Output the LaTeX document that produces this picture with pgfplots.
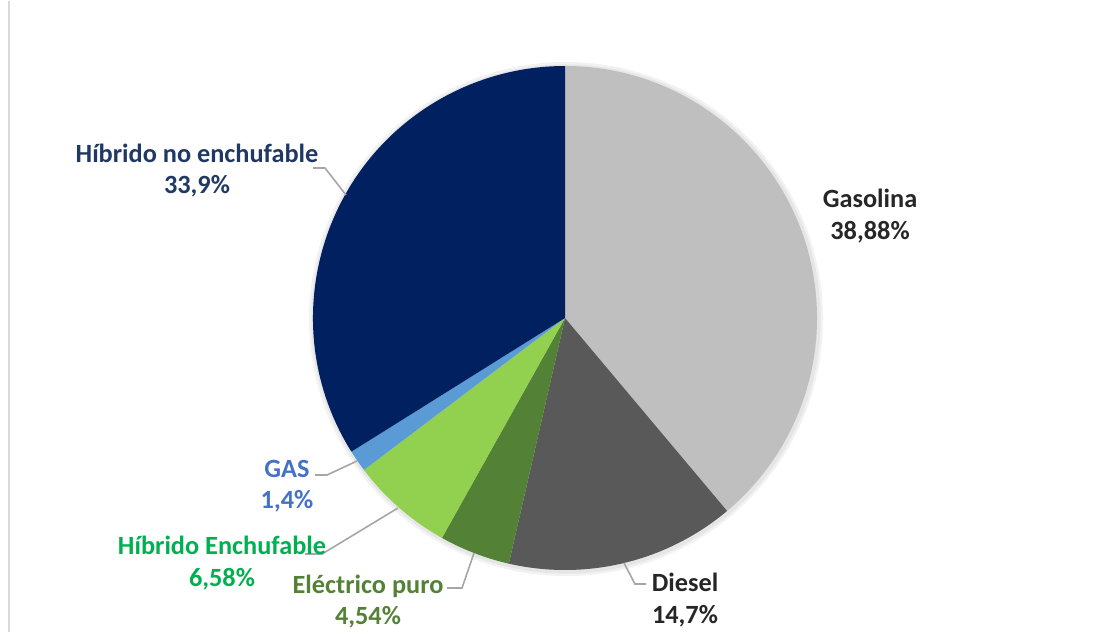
\documentclass[border=0pt]{standalone}
\usepackage{fontspec}
\setmainfont{Carlito}
\usepackage{pgfplots}
\usepackage{pgfplotstable}
\pgfplotsset{compat=1.18}
\definecolor{cGasolina}{HTML}{BFBFBF}
\definecolor{cDiesel}{HTML}{595959}
\definecolor{cElec}{HTML}{538135}
\definecolor{cHE}{HTML}{92D050}
\definecolor{cGAS}{HTML}{5B9BD5}
\definecolor{cHNE}{HTML}{002060}
\definecolor{tHNE}{HTML}{1F3864}
\definecolor{tGAS}{HTML}{4472C4}
\definecolor{tHE}{HTML}{00B050}
\definecolor{tElec}{HTML}{538135}
\definecolor{tDark}{HTML}{262626}
\definecolor{leader}{HTML}{A6A6A6}
\definecolor{frame}{HTML}{D9D9D9}

\pgfplotstableread[col sep=comma]{
name,value
Gasolina,38.88
Diesel,14.7
Electrico,4.54
HibridoEnchufable,6.58
GAS,1.4
HibridoNoEnchufable,33.9
}\piedata

\begin{document}
\begin{tikzpicture}
\pgfplotstablegetelem{0}{value}\of\piedata \let\vA\pgfplotsretval
\pgfplotstablegetelem{1}{value}\of\piedata \let\vB\pgfplotsretval
\pgfplotstablegetelem{2}{value}\of\piedata \let\vC\pgfplotsretval
\pgfplotstablegetelem{3}{value}\of\piedata \let\vD\pgfplotsretval
\pgfplotstablegetelem{4}{value}\of\piedata \let\vE\pgfplotsretval
\pgfplotstablegetelem{5}{value}\of\piedata \let\vF\pgfplotsretval
\pgfmathsetmacro\tA{90}
\pgfmathsetmacro\tB{\tA-3.6*\vA}
\pgfmathsetmacro\tC{\tB-3.6*\vB}
\pgfmathsetmacro\tD{\tC-3.6*\vC}
\pgfmathsetmacro\tE{\tD-3.6*\vD}
\pgfmathsetmacro\tF{\tE-3.6*\vE}
\pgfmathsetmacro\tG{\tF-3.6*\vF}
\begin{axis}[x=0.5pt, y=0.5pt, xmin=0, xmax=1112, ymin=0, ymax=631,
  hide axis, clip=false, scale only axis]
\path (axis cs:0,0) rectangle (axis cs:1112,631);
% left frame line
\draw[frame, line width=1pt] (axis cs:9,0) -- (axis cs:9,631);
% soft shadow
\fill[black, opacity=0.05] (axis cs:566,313) circle[radius=128.5pt];
\fill[black, opacity=0.05] (axis cs:566,313) circle[radius=127.3pt];
% slices
\fill[cGasolina] (axis cs:565,314) -- ++(\tA:126pt) arc[start angle=\tA, end angle=\tB, radius=126pt] -- cycle;
\fill[cDiesel] (axis cs:565,314) -- ++(\tB:126pt) arc[start angle=\tB, end angle=\tC, radius=126pt] -- cycle;
\fill[cElec] (axis cs:565,314) -- ++(\tC:126pt) arc[start angle=\tC, end angle=\tD, radius=126pt] -- cycle;
\fill[cHE] (axis cs:565,314) -- ++(\tD:126pt) arc[start angle=\tD, end angle=\tE, radius=126pt] -- cycle;
\fill[cGAS] (axis cs:565,314) -- ++(\tE:126pt) arc[start angle=\tE, end angle=\tF, radius=126pt] -- cycle;
\fill[cHNE] (axis cs:565,314) -- ++(\tF:126pt) arc[start angle=\tF, end angle=\tG, radius=126pt] -- cycle;
% leader lines
\draw[leader, line width=0.8pt] (axis cs:313,464) -- (axis cs:325,464) -- (axis cs:346,437);
\draw[leader, line width=0.8pt] (axis cs:315,157) -- (axis cs:327,157) -- (axis cs:357,171);
\draw[leader, line width=0.8pt] (axis cs:305,78) -- (axis cs:322,78) -- (axis cs:398,124);
\draw[leader, line width=0.8pt] (axis cs:447,44) -- (axis cs:462,44) -- (axis cs:474,79);
\draw[leader, line width=0.8pt] (axis cs:624,69) -- (axis cs:635,48) -- (axis cs:646,48);
% labels
\tikzset{lbl/.style={anchor=base, inner sep=0pt, font=\fontsize{13.15}{16}\selectfont\bfseries}}
\node[lbl, text=tHNE] at (axis cs:197,469) {Híbrido no enchufable};
\node[lbl, text=tHNE] at (axis cs:197,438) {33,9\%};
\node[lbl, text=tDark] at (axis cs:870,424) {Gasolina};
\node[lbl, text=tDark] at (axis cs:870,392) {38,88\%};
\node[lbl, text=tGAS] at (axis cs:287,155) {GAS};
\node[lbl, text=tGAS] at (axis cs:287,124) {1,4\%};
\node[lbl, text=tHE] at (axis cs:222,78) {Híbrido Enchufable};
\node[lbl, text=tHE] at (axis cs:222,46) {6,58\%};
\node[lbl, text=tElec] at (axis cs:368,39) {Eléctrico puro};
\node[lbl, text=tElec] at (axis cs:368,8) {4,54\%};
\node[lbl, text=tDark] at (axis cs:685,41) {Diesel};
\node[lbl, text=tDark] at (axis cs:685,9) {14,7\%};
\end{axis}
\end{tikzpicture}
\end{document}
